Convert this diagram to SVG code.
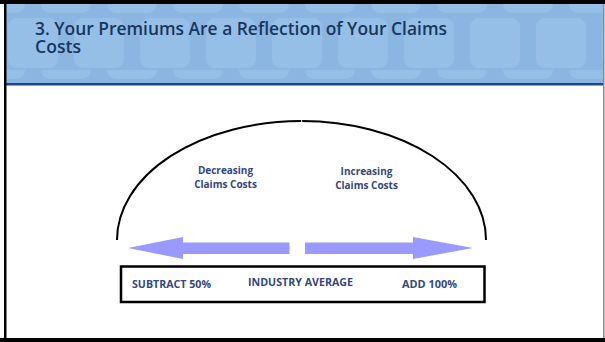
<svg xmlns="http://www.w3.org/2000/svg" width="605" height="342" viewBox="0 0 605 342">
<defs>
<style>
.title{font-family:"Open Sans","Liberation Sans",sans-serif;font-size:17.5px;font-weight:600;fill:#17375E;}
.lbl{font-family:"Open Sans","Liberation Sans",sans-serif;font-size:10px;font-weight:bold;fill:#34477C;}
.arrow{fill:#9999FF;}
</style>
<pattern id="tiles" x="0" y="4" width="66" height="66" patternUnits="userSpaceOnUse">
<rect x="8" y="14" width="50" height="50" rx="9" fill="#96BFE8"/>
<rect x="41" y="-19" width="50" height="28" rx="9" fill="#96BFE8"/>
<rect x="-25" y="-19" width="50" height="28" rx="9" fill="#96BFE8"/>
</pattern>
</defs>
<rect x="0" y="0" width="605" height="342" fill="#FFFFFF"/>
<g id="header">
<rect x="5" y="4" width="599" height="80" fill="#8BB6E1"/>
<rect x="5" y="4" width="599" height="80" fill="url(#tiles)"/>
<rect x="5" y="83" width="599" height="2.5" fill="#1A4883"/>
<text class="title" x="35" y="35" textLength="412" lengthAdjust="spacingAndGlyphs">3. Your Premiums Are a Reflection of Your Claims</text>
<text class="title" x="35" y="53" textLength="46" lengthAdjust="spacingAndGlyphs">Costs</text>
</g>
<g id="frame">
<rect x="0" y="0" width="605" height="4" fill="#000"/>
<rect x="4" y="0" width="2.5" height="342" fill="#000"/>
<rect x="0" y="338" width="605" height="4" fill="#000"/>
<rect x="603" y="4" width="1.5" height="334" fill="#8A8A8A"/>
</g>
<g id="connectors">
<path d="M117,240 A184.5,119 0 0 1 301.2,121" fill="none" stroke="#000" stroke-width="2"/>
<path d="M302.2,121 A184.5,119 0 0 1 486,240" fill="none" stroke="#000" stroke-width="2"/>
</g>
<g id="arrow-left">
<polygon class="arrow" points="128,248 183,237 183,242.5 289.5,242.5 289.5,254 183,254 183,259"/>
</g>
<g id="arrow-right">
<polygon class="arrow" points="473,248 413,237 413,242.5 305,242.5 305,254 413,254 413,259"/>
</g>
<g id="label-decreasing">
<text class="lbl" x="225.5" y="174" text-anchor="middle">Decreasing</text>
<text class="lbl" x="225.5" y="188" text-anchor="middle">Claims Costs</text>
</g>
<g id="label-increasing">
<text class="lbl" x="366.5" y="175" text-anchor="middle">Increasing</text>
<text class="lbl" x="366.5" y="189" text-anchor="middle">Claims Costs</text>
</g>
<g id="scale-box">
<rect x="121" y="266.5" width="363.5" height="35.5" fill="#FFFFFF" stroke="#000" stroke-width="2.5"/>
<text class="lbl" x="132" y="288" textLength="79" lengthAdjust="spacingAndGlyphs">SUBTRACT 50%</text>
<text class="lbl" x="248" y="286" textLength="105" lengthAdjust="spacingAndGlyphs">INDUSTRY AVERAGE</text>
<text class="lbl" x="402" y="288" textLength="55" lengthAdjust="spacingAndGlyphs">ADD 100%</text>
</g>
</svg>
